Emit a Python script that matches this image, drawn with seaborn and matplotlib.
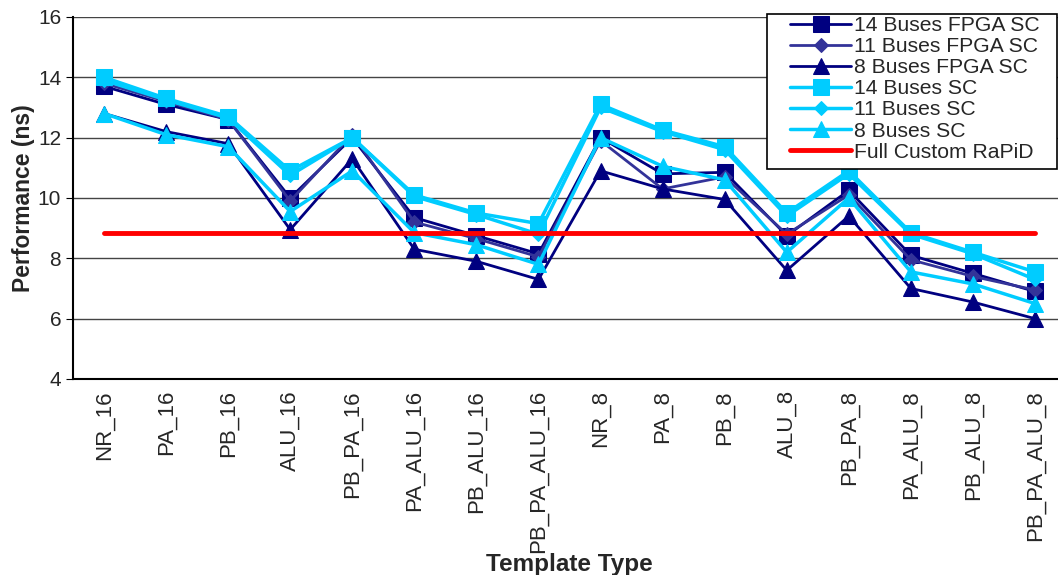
import pandas as pd
import numpy as np
import matplotlib.pyplot as plt
import seaborn as sns

sns.set_style('white')
plt.rcParams['font.family'] = ['Liberation Sans', 'DejaVu Sans']

templates = ['NR_16', 'PA_16', 'PB_16', 'ALU_16', 'PB_PA_16', 'PA_ALU_16', 'PB_ALU_16', 'PB_PA_ALU_16',
             'NR_8', 'PA_8', 'PB_8', 'ALU_8', 'PB_PA_8', 'PA_ALU_8', 'PB_ALU_8', 'PB_PA_ALU_8']

bus14_fpga = [13.7, 13.1, 12.6, 10.0, 12.0, 9.35, 8.75, 8.15, 12.0, 10.8, 10.85, 8.75, 10.25, 8.1, 7.5, 6.9]
bus11_fpga = [13.8, 13.2, 12.6, 9.9, 12.1, 9.2, 8.65, 8.05, 11.9, 10.3, 10.7, 8.8, 10.1, 7.95, 7.4, 6.95]
bus8_fpga = [12.8, 12.2, 11.8, 8.95, 11.3, 8.3, 7.9, 7.3, 10.9, 10.3, 9.95, 7.6, 9.4, 7.0, 6.55, 6.0]
bus14_sc = [14.0, 13.3, 12.7, 10.9, 12.0, 10.1, 9.5, 9.15, 13.1, 12.25, 11.7, 9.5, 10.9, 8.85, 8.2, 7.55]
bus11_sc = [13.9, 13.25, 12.65, 10.75, 12.0, 10.05, 9.45, 8.8, 13.0, 12.2, 11.6, 9.4, 10.8, 8.8, 8.15, 7.3]
bus8_sc = [12.8, 12.1, 11.7, 9.55, 10.9, 8.85, 8.45, 7.8, 12.0, 11.05, 10.6, 8.2, 10.0, 7.55, 7.15, 6.5]
full_custom = 8.85

series = {
    '14 Buses FPGA SC': bus14_fpga,
    '11 Buses FPGA SC': bus11_fpga,
    '8 Buses FPGA SC': bus8_fpga,
    '14 Buses SC': bus14_sc,
    '11 Buses SC': bus11_sc,
    '8 Buses SC': bus8_sc,
}
navy, navy2, cyan = '#000080', '#333399', '#00CCFF'
colors = [navy, navy2, navy, cyan, cyan, cyan]
markers = ['s', 'D', '^', 's', 'D', '^']
msizes = [11, 7, 11, 11, 7, 11]
widths = [2.0, 2.0, 2.0, 2.5, 2.5, 2.5]

df = pd.DataFrame({'template': templates * len(series),
                   'series': np.repeat(list(series.keys()), len(templates)),
                   'perf': np.concatenate([v for v in series.values()])})

fig = plt.figure(figsize=(10.58, 5.75), dpi=100)
ax = fig.add_axes([0.069, 0.3409, 0.9386, 0.6296])

for (name, _), c, m, ms, lw in zip(series.items(), colors, markers, msizes, widths):
    sns.lineplot(data=df[df['series'] == name], x='template', y='perf', ax=ax, color=c,
                 marker=m, markersize=ms, markeredgecolor=c, linewidth=lw, label=name, sort=False)
sns.lineplot(x=templates, y=[full_custom] * len(templates), ax=ax, color='#FF0000', linewidth=3.5,
             label='Full Custom RaPiD')

ax.set_xlim(-0.5, 15.5)
ax.set_ylim(4, 16)
ax.set_yticks(np.arange(4, 17, 2))
ax.yaxis.grid(True, color='#444444', linewidth=1)
ax.set_axisbelow(True)
for s in ['top', 'right']:
    ax.spines[s].set_visible(False)
ax.spines['left'].set_color('black')
ax.spines['bottom'].set_color('black')
ax.spines['bottom'].set_linewidth(1.5)
ax.spines['left'].set_linewidth(1.5)

ax.set_xticks(range(len(templates)))
ax.set_xticklabels(templates, rotation=90, fontsize=16)
ax.set_xticks(np.arange(-0.5, 16, 1), minor=True)
ax.tick_params(axis='x', which='major', length=0, pad=8)
ax.tick_params(axis='x', which='minor', length=5, direction='out', color='black')
ax.tick_params(axis='y', length=5, direction='out', labelsize=15, color='black', left=True)

ax.set_xlabel('Template Type', fontsize=17.5, fontweight='bold', labelpad=0)
ax.set_ylabel('Performance (ns)', fontsize=16.5, fontweight='bold', labelpad=2)

# legend box drawn separately so the padding matches the original
box = plt.Rectangle((767 / 1058, 1 - 169 / 575), 290 / 1058, 155 / 575, transform=fig.transFigure,
                    facecolor='white', edgecolor='black', linewidth=1.2, clip_on=False, zorder=6)
ax.add_patch(box)
leg = ax.legend(loc='upper left', bbox_to_anchor=(790 / 1058, 1 - 16 / 575), bbox_transform=fig.transFigure,
                fontsize=15.2, frameon=False, handlelength=2.9, handletextpad=0.15, labelspacing=0.1,
                borderpad=0, borderaxespad=0)
leg.set_zorder(10)

fig.savefig('out.png', dpi=100)
